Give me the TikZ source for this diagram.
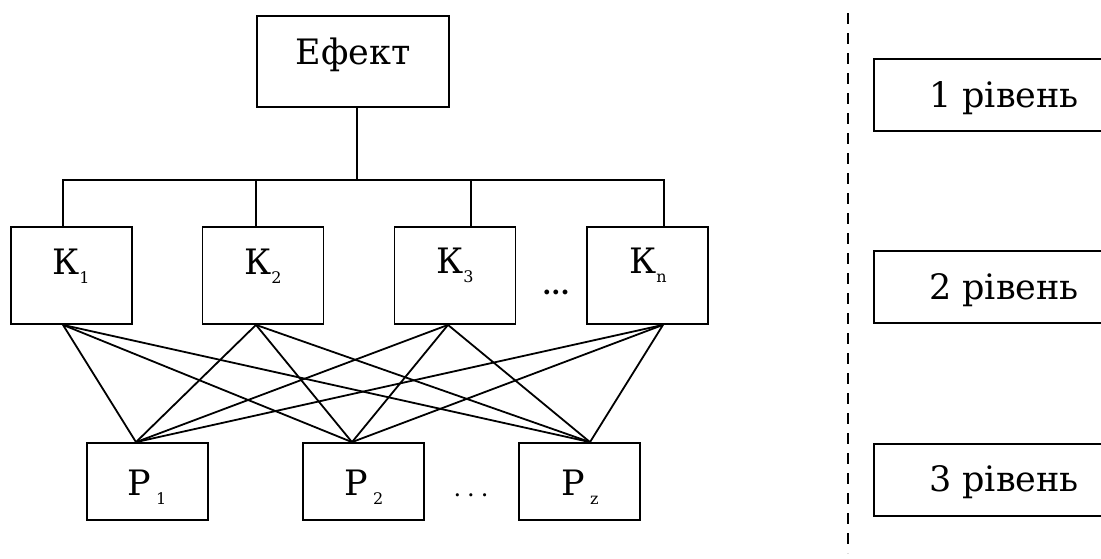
\documentclass[tikz,border=0pt]{standalone}
\usepackage{fontspec}
\setmainfont{DejaVu Serif}
\newcommand{\mysub}[1]{\raisebox{-9pt}{\fontsize{16}{16}\selectfont #1}}
\begin{document}
\begin{tikzpicture}[x=1pt,y=-1pt,
  box/.style={draw, line width=1.8pt, inner sep=0pt},
  kbox/.style={box, minimum width=121pt, minimum height=97pt},
  pbox/.style={box, minimum width=121pt, minimum height=77pt},
  lvbox/.style={box, minimum width=240pt, minimum height=72pt},
  lbl/.style={anchor=base, inner sep=0pt, font=\fontsize{35}{40}\selectfont},
  wire/.style={line width=1.8pt},
  sep/.style={line width=1.8pt, dash pattern=on 10.5pt off 9.5pt},
]
\path[use as bounding box] (0,0) rectangle (1101,558);
\clip (0,0) rectangle (1101,558);

% top
\node[box, minimum width=192pt, minimum height=91pt] (ef) at (353,61.5) {};
\node[lbl] (eft) at (353,64) {Ефект};

% level 2
\node[kbox] (k1) at (71.5,275.5) {};
\node[kbox] (k2) at (263,275.5) {};
\node[kbox] (k3) at (455,275.5) {};
\node[kbox] (kn) at (647.5,275.5) {};
\node[lbl] (k1t) at (71,274) {К\mysub{1}};
\node[lbl] (k2t) at (263,274) {К\mysub{2}};
\node[lbl] (k3t) at (455,273) {К\mysub{3}};
\node[lbl] (knt) at (648,273) {К\mysub{n}};
\node[anchor=base, inner sep=0pt, font=\bfseries\fontsize{26}{28}\selectfont] (kdots) at (556,294) {...};

% level 3
\node[pbox] (p1) at (147.5,481.5) {};
\node[pbox] (p2) at (363.5,481.5) {};
\node[pbox] (pz) at (579.5,481.5) {};
\node[lbl] (p1t) at (147,495) {P\hspace{5pt}\mysub{1}};
\node[lbl] (p2t) at (364,495) {P\hspace{5pt}\mysub{2}};
\node[lbl] (pzt) at (580,495) {P\hspace{5pt}\mysub{z}};
\node[anchor=base, inner sep=0pt, font=\fontsize{24}{26}\selectfont] (pdots) at (471,496) {.\hspace{6pt}.\hspace{6pt}.};

% tree connectors
\coordinate (k1top) at ([xshift=-8.5pt]k1.north);
\coordinate (k2top) at ([xshift=-7pt]k2.north);
\coordinate (k3top) at ([xshift=16pt]k3.north);
\coordinate (kntop) at ([xshift=16.5pt]kn.north);
\coordinate (eftbot) at ([xshift=4pt]ef.south);
\draw[wire] (k1top) -- ++(0,-46) -| (kntop);
\draw[wire] (k2top) -- ++(0,-46);
\draw[wire] (k3top) -- ++(0,-46);
\draw[wire] (eftbot) -- (eftbot |- 0,181);

% cross connectors
\coordinate (k1b) at ([xshift=-8.5pt]k1.south);
\coordinate (k2b) at ([xshift=-7pt]k2.south);
\coordinate (k3b) at ([xshift=-7pt]k3.south);
\coordinate (knb) at ([xshift=15.5pt]kn.south);
\coordinate (p1t0) at ([xshift=-11.5pt]p1.north);
\coordinate (p2t0) at ([xshift=-11.5pt]p2.north);
\coordinate (pzt0) at ([xshift=10.5pt]pz.north);
\foreach \k in {k1b,k2b,k3b,knb}{
  \foreach \p in {p1t0,p2t0,pzt0}{
    \draw[wire] (\k) -- (\p);
  }
}

% separator
\coordinate (dtop) at (848,13);
\coordinate (dbot) at (848,553);
\draw[sep] (dtop) -- (dbot);

% level boxes
\node[lvbox] (l1) at (994,95) {};
\node[lvbox] (l2) at (994,287) {};
\node[lvbox] (l3) at (994,480) {};
\node[lbl] (l1t) at (1004,107) {1 рівень};
\node[lbl] (l2t) at (1004,299) {2 рівень};
\node[lbl] (l3t) at (1004,491) {3 рівень};
\end{tikzpicture}
\end{document}
